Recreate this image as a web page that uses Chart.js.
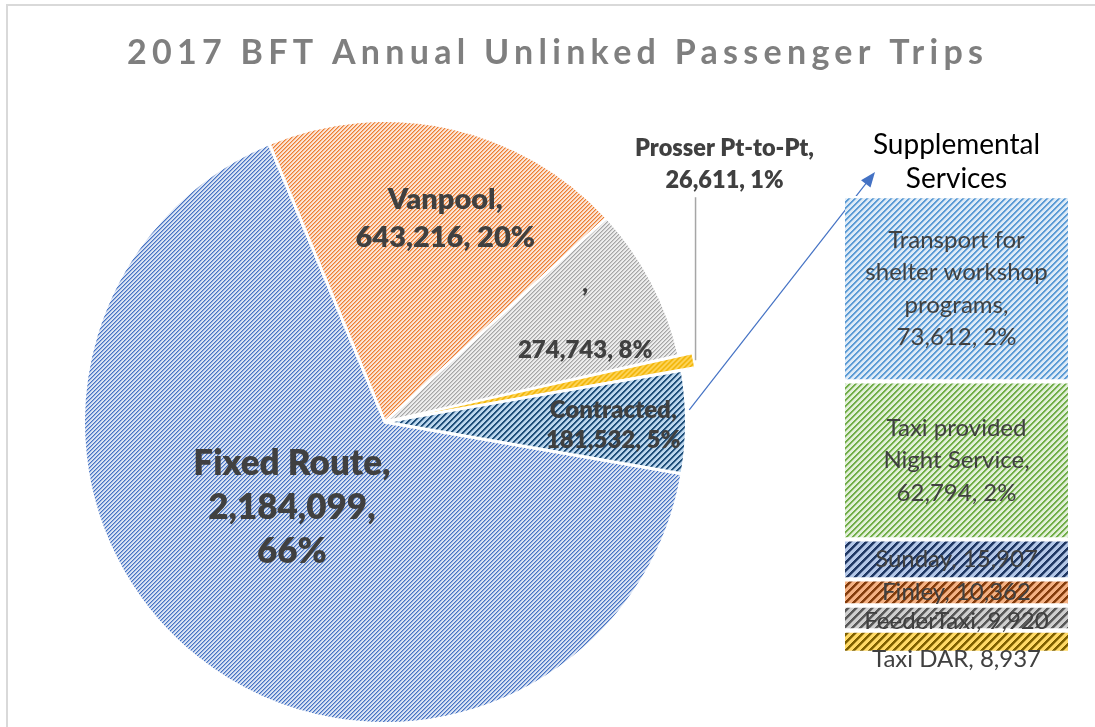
<!DOCTYPE html>
<html><head><meta charset="utf-8">
<script src="https://cdn.jsdelivr.net/npm/chart.js@4/dist/chart.umd.min.js"></script>
<style>
html,body{margin:0;padding:0;background:#fff;}
#wrap{position:relative;width:1095px;height:727px;overflow:hidden;background:#fff;}
#pie{position:absolute;left:0;top:0;}
#bar{position:absolute;left:830px;top:120px;}
</style></head>
<body><div id="wrap"><canvas id="pie" width="1095" height="727"></canvas><canvas id="bar" width="255" height="560"></canvas></div>
<script>
// ---------- data ----------
const chartTitle = '2017 BFT Annual Unlinked Passenger Trips';
const pieCategories = ['Fixed Route', 'Vanpool', '', 'Prosser Pt-to-Pt', 'Contracted'];
const pieValues = [2184099, 643216, 274743, 26611, 181532];
const piePercentLabels = ['66%', '20%', '8%', '1%', '5%'];
const barTitle = ['Supplemental', 'Services'];
const barCategories = ['Transport for shelter workshop programs', 'Taxi provided Night Service', 'Sunday', 'Finley', 'FeederTaxi', 'Taxi DAR'];
const barValues = [73612, 62794, 15907, 10362, 9920, 8937];
const barPercentLabels = ['2%', '2%', null, null, null, null];

// ---------- helpers ----------
const fmt = v => v.toLocaleString('en-US');
const FONT = 'Lato, "Open Sans", sans-serif';
const LABEL_COLOR = '#404040';
const BOLD = '800';

function hatch(ctx, fg, bg, period, thick) {
  const c = document.createElement('canvas'); c.width = period; c.height = period;
  const g = c.getContext('2d');
  g.fillStyle = bg; g.fillRect(0, 0, period, period);
  g.fillStyle = fg;
  for (let y = 0; y < period; y++) for (let x = 0; x < period; x++) {
    const d = (x + y) % period;
    if (d < thick) { g.globalAlpha = 1; g.fillRect(x, y, 1, 1); }
    else if (d === thick) { g.globalAlpha = 0.45; g.fillRect(x, y, 1, 1); }
  }
  return ctx.createPattern(c, 'repeat');
}

function wrapWords(ctx, text, maxW) {
  const words = text.split(' '); const lines = []; let cur = '';
  for (const w of words) {
    const t = cur ? cur + ' ' + w : w;
    if (cur && ctx.measureText(t).width > maxW) { lines.push(cur); cur = w; } else cur = t;
  }
  if (cur) lines.push(cur);
  return lines;
}

// ---------- bar (supplemental services) ----------
const barCanvas = document.getElementById('bar');
const bctx = barCanvas.getContext('2d');
const barStyles = [
  ['#5B9BD5', '#DEEBF7', 6, 2],
  ['#70AD47', '#E2F0D9', 6, 2],
  ['#203864', '#B4C7E7', 8, 3],
  ['#843C0C', '#F4B183', 8, 3],
  ['#595959', '#CFCFCF', 8, 3],
  ['#7F6000', '#FFD966', 8, 3]
];
const barLabelShift = [0, 0, 0, 0, 3, 18];
const barTotal = barValues.reduce((a, b) => a + b, 0);

const barLabelPlugin = {
  id: 'barLabels',
  afterDatasetsDraw(chart) {
    const ctx = chart.ctx;
    ctx.save();
    ctx.fillStyle = LABEL_COLOR;
    ctx.font = '24px ' + FONT;
    ctx.textAlign = 'center'; ctx.textBaseline = 'middle';
    barCategories.forEach((name, i) => {
      const el = chart.getDatasetMeta(i).data[0];
      const p = el.getProps(['x', 'y', 'base'], true);
      const valTxt = fmt(barValues[i]) + (barPercentLabels[i] ? ', ' + barPercentLabels[i] : '');
      const full = name + ', ' + valTxt;
      let lines;
      if (ctx.measureText(full).width <= 205) lines = [full];
      else lines = wrapWords(ctx, name + ',', 200).concat([valTxt]);
      const lh = 32.5;
      const cy = (p.y + p.base) / 2 + barLabelShift[i];
      lines.forEach((ln, k) => ctx.fillText(ln, p.x, cy + (k - (lines.length - 1) / 2) * lh));
    });
    ctx.restore();
  }
};

const barChart = new Chart(barCanvas, {
  type: 'bar',
  data: {
    labels: ['Supplemental Services'],
    datasets: barCategories.map((c, i) => ({
      label: c,
      data: [barValues[i]],
      backgroundColor: hatch(bctx, ...barStyles[i]),
      borderColor: '#ffffff',
      borderWidth: { top: 2.5, bottom: 2.5, left: 0, right: 0 },
      borderSkipped: false,
      barPercentage: 1,
      categoryPercentage: 1
    }))
  },
  options: {
    responsive: false,
    animation: false,
    layout: { padding: { left: 15, right: 17, top: 2.7, bottom: 27 } },
    plugins: {
      legend: { display: false },
      tooltip: { enabled: false },
      title: {
        display: true, text: barTitle, color: '#000000',
        font: { family: FONT, size: 28, weight: 'normal', lineHeight: 1.22 },
        padding: { top: 5, bottom: 0 }
      }
    },
    scales: {
      x: { display: false, stacked: true },
      y: { display: false, stacked: true, reverse: true, min: 0, max: barTotal }
    }
  },
  plugins: [barLabelPlugin]
});

// ---------- pie ----------
const pieCanvas = document.getElementById('pie');
const pctx = pieCanvas.getContext('2d');
const pieStyles = [
  ['#4472C4', '#DAE3F3', 4, 1],
  ['#ED7D31', '#FBE5D6', 4, 1],
  ['#A5A5A5', '#EDEDED', 4, 1],
  ['#F2B300', '#FFD966', 5, 2],
  ['#1F4E79', '#BDD7EE', 6, 2]
];
const pieTotal = pieValues.reduce((a, b) => a + b, 0);
const otherIndex = 4;

const pieLabelLayout = [
  { r: 0.415, dx: -15, dy: -12, size: 35, lh: 44, lines: (n, v, p) => [n + ',', v + ',', p] },
  { r: 0.70, dx: 15, dy: 3, size: 29, lh: 38, lines: (n, v, p) => [n + ',', v + ', ' + p] },
  { r: 0.75, dx: 0, dy: 0, size: 24, lh: 33, lines: (n, v, p) => [n + ',', '', v + ', ' + p] },
  { outside: true, dx: 31, dy: -196, size: 23.5, lh: 32, lines: (n, v, p) => [n + ',', v + ', ' + p] },
  { r: 0.757, dx: 0, dy: 3, size: 24, lh: 30, lines: (n, v, p) => [n + ',', v + ', ' + p] }
];

const piePlugin = {
  id: 'pieDecor',
  beforeDraw(chart) {
    const ctx = chart.ctx;
    ctx.save();
    ctx.fillStyle = '#D9D9D9';
    ctx.fillRect(6, 4, 2, chart.height);
    ctx.fillRect(6, 4, chart.width - 6, 2);
    // title
    ctx.fillStyle = '#7F7F7F';
    ctx.font = 'bold 34px ' + FONT;
    ctx.textAlign = 'left'; ctx.textBaseline = 'alphabetic';
    ctx.letterSpacing = '0px';
    const w0 = ctx.measureText(chartTitle).width;
    const sp = (856 - w0) / (chartTitle.length - 1);
    ctx.letterSpacing = sp + 'px';
    ctx.fillText(chartTitle, 127, 64);
    ctx.letterSpacing = '0px';
    ctx.restore();
  },
  afterDatasetsDraw(chart) {
    const ctx = chart.ctx;
    const meta = chart.getDatasetMeta(0);
    ctx.save();
    ctx.fillStyle = LABEL_COLOR;
    ctx.textAlign = 'center'; ctx.textBaseline = 'middle';
    meta.data.forEach((arc, i) => {
      const a = arc.getProps(['x', 'y', 'startAngle', 'endAngle', 'outerRadius', 'circumference'], true);
      const mid = (a.startAngle + a.endAngle) / 2;
      const L = pieLabelLayout[i];
      const lines = L.lines(pieCategories[i], fmt(pieValues[i]), piePercentLabels[i]);
      let cx, cy;
      if (L.outside) {
        const off = (arc.options.offset || 0) / 4;
        const fix = 1 - Math.sin(Math.min(Math.PI, a.circumference));
        const rr = off + a.outerRadius + off * fix;
        const px = a.x + Math.cos(mid) * rr, py = a.y + Math.sin(mid) * rr;
        cx = px + L.dx; cy = py + L.dy;
        const bottom = cy + (lines.length * L.lh) / 2 + 1;
        ctx.save();
        ctx.strokeStyle = '#A6A6A6'; ctx.lineWidth = 1.5;
        ctx.beginPath(); ctx.moveTo(px + 2, py); ctx.lineTo(px + 2, bottom); ctx.stroke();
        ctx.restore();
      } else {
        cx = a.x + Math.cos(mid) * a.outerRadius * L.r + L.dx;
        cy = a.y + Math.sin(mid) * a.outerRadius * L.r + L.dy;
      }
      ctx.font = BOLD + ' ' + L.size + 'px ' + FONT;
      lines.forEach((ln, k) => ctx.fillText(ln, cx, cy + (k - (lines.length - 1) / 2) * L.lh));
    });
    // arrow to supplemental services
    const o = meta.data[otherIndex].getProps(['x', 'y', 'startAngle', 'endAngle', 'outerRadius'], true);
    const om = (o.startAngle + o.endAngle) / 2 - 0.04;
    const sx = o.x + Math.cos(om) * (o.outerRadius + 3), sy = o.y + Math.sin(om) * (o.outerRadius + 3);
    const ca = barChart.chartArea;
    const ex = 830 + ca.left + 30, ey = 120 + ca.top - 24;
    const ang = Math.atan2(ey - sy, ex - sx);
    ctx.strokeStyle = '#4472C4'; ctx.fillStyle = '#4472C4'; ctx.lineWidth = 1.2;
    ctx.beginPath(); ctx.moveTo(sx, sy);
    ctx.lineTo(ex - Math.cos(ang) * 12, ey - Math.sin(ang) * 12); ctx.stroke();
    ctx.beginPath();
    ctx.moveTo(ex, ey);
    ctx.lineTo(ex - Math.cos(ang) * 15 - Math.sin(ang) * 6, ey - Math.sin(ang) * 15 + Math.cos(ang) * 6);
    ctx.lineTo(ex - Math.cos(ang) * 15 + Math.sin(ang) * 6, ey - Math.sin(ang) * 15 - Math.cos(ang) * 6);
    ctx.closePath(); ctx.fill();
    ctx.restore();
  }
};

new Chart(pieCanvas, {
  type: 'pie',
  data: {
    labels: pieCategories,
    datasets: [{
      data: pieValues,
      backgroundColor: pieStyles.map(s => hatch(pctx, ...s)),
      borderColor: '#ffffff',
      borderWidth: [3, 3, 3, 1.5, 3],
      offset: [0, 0, 0, 27, 0],
      radius: 301.5
    }]
  },
  options: {
    responsive: false,
    animation: false,
    rotation: 90 + (pieValues[otherIndex] / pieTotal) * 180,
    layout: { padding: { left: 85, right: 410, top: 122, bottom: 5 } },
    plugins: { legend: { display: false }, tooltip: { enabled: false }, title: { display: false } }
  },
  plugins: [piePlugin]
});
</script>
</body></html>
